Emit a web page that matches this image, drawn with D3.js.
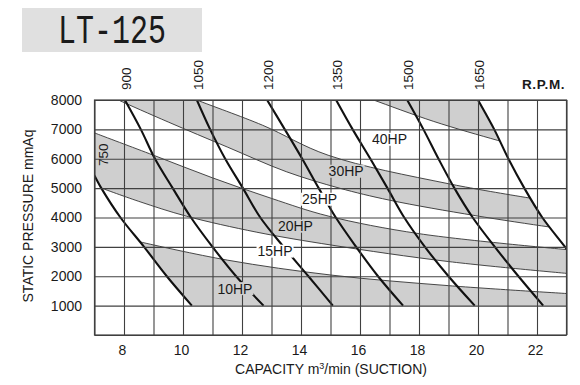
<!DOCTYPE html>
<html>
<head>
<meta charset="utf-8">
<script src="https://cdn.jsdelivr.net/npm/d3@7"></script>
<style>
  body { margin: 0; background: #fff; }
  svg { display: block; }
  text { font-family: "Liberation Sans", Arial, sans-serif; fill: #1a1a1a; }
</style>
</head>
<body>
<svg id="chart" width="580" height="385"></svg>
<script>
// ticks
const xTicks = [8, 10, 12, 14, 16, 18, 20, 22];
const yTicks = [1000, 2000, 3000, 4000, 5000, 6000, 7000, 8000];

// rpm curves, [capacity, pressure]
const rpmNames = ['750', '900', '1050', '1200', '1350', '1500', '1650'];
const rpm750 = [[6.85, 5700], [7.0, 5420], [7.23, 5000], [7.88, 4000], [8.68, 3000], [9.45, 2000], [10.3, 1000]];
const rpm900 = [[8.03, 8000], [8.57, 7000], [9.05, 6000], [9.65, 5000], [10.27, 4000], [11.0, 3000], [11.8, 2000], [12.73, 1000]];
const rpm1050 = [[10.47, 8000], [10.92, 7000], [11.43, 6000], [12.03, 5000], [12.62, 4000], [13.41, 3000], [14.25, 2000], [15.08, 1000]];
const rpm1200 = [[12.85, 8000], [13.45, 7000], [14.04, 6000], [14.6, 5000], [15.18, 4000], [15.87, 3000], [16.61, 2000], [17.46, 1000]];
const rpm1350 = [[15.19, 8000], [15.75, 7000], [16.35, 6000], [16.93, 5000], [17.5, 4000], [18.2, 3000], [19.0, 2000], [19.89, 1000]];
const rpm1500 = [[17.6, 8000], [18.15, 7000], [18.66, 6000], [19.2, 5000], [19.82, 4000], [20.57, 3000], [21.37, 2000], [22.21, 1000]];
const rpm1650 = [[19.72, 8500], [20.0, 8000], [20.55, 7000], [21.03, 6000], [21.57, 5000], [22.18, 4000], [22.95, 3000], [23.7, 2000]];

// motor power limit lines (bottom to top)
const hpLineC = [[8.3, 3230], [8.54, 3170], [11.5, 2550], [15.05, 2037], [19.0, 1680], [23.2, 1400]];
const hpLineB = [[6.9, 5130], [7.0, 5090], [8.5, 4550], [10.12, 4044], [12.5, 3500], [15.05, 3058], [19.0, 2500], [23.2, 2080]];
const hpLineA = [[6.9, 6920], [7.0, 6880], [9.0, 6120], [11.0, 5350], [13.0, 4650], [14.92, 4050], [18.0, 3450], [23.2, 2890]];
const hpLineD = [[7.5, 8150], [7.81, 8000], [9.5, 7250], [11.5, 6400], [13.5, 5560], [15.3, 5000], [17.0, 4590], [19.9, 4065], [22.4, 3680], [23.2, 3570]];
const hpLineE = [[10.0, 8200], [10.47, 8000], [12.7, 7140], [14.92, 6120], [19.0, 5150], [23.2, 4430]];
const hpLineF = [[16.0, 8170], [16.46, 8000], [18.5, 7270], [20.65, 6630], [21.5, 6400]];

// hp labels
const hpNames = ['10HP', '15HP', '20HP', '25HP', '30HP', '40HP'];
const hpLabelX = [11.76, 13.12, 13.81, 14.63, 15.53, 17.0];
const hpLabelY = [1578, 2854, 3704, 4622, 5575, 6663];

const svg = d3.select('#chart');
const plotL = 94.5, plotR = 566.5, plotT = 100, plotB = 335;

const x = d3.scaleLinear().domain([7, 23]).range([plotL, plotR]);
const y = d3.scaleLinear().domain([0, 8000]).range([plotB, plotT]);

const line = d3.line()
    .x(d => x(d[0]))
    .y(d => y(d[1]))
    .curve(d3.curveCatmullRom.alpha(0.5));
const straight = d3.line().x(d => x(d[0])).y(d => y(d[1]));
const cont = s => s.replace('M', 'L');

// smooth top and bottom edges, straight joins at the ends
function bandPath(upper, lower) {
    return line(upper) + cont(line(lower.slice().reverse())) + 'Z';
}

const GRAY = '#cfcfcf';

// title box
svg.append('rect')
    .attr('x', 22).attr('y', 8)
    .attr('width', 180).attr('height', 44)
    .attr('fill', '#e0e0e0');
svg.append('text')
    .attr('transform', 'translate(112,43) scale(1,1.35)')
    .attr('text-anchor', 'middle')
    .style('font-family', '"Liberation Mono", "DejaVu Sans Mono", monospace')
    .style('font-size', '30px')
    .text('LT-125');

// clip paths
const defs = svg.append('defs');
defs.append('clipPath').attr('id', 'plotClip')
    .append('rect')
    .attr('x', plotL).attr('y', plotT)
    .attr('width', plotR - plotL).attr('height', plotB - plotT);

// operating range: right of 750 rpm, left of 1650 rpm, above 1000 mmAq
const last1650 = rpm1650[rpm1650.length - 1];
const opPath = straight([[6.5, 8500], rpm1650[0]])
    + cont(line(rpm1650))
    + cont(straight([last1650, [24, 1000], rpm750[rpm750.length - 1]]))
    + cont(line(rpm750.slice().reverse()))
    + cont(straight([rpm750[0], [6.5, 8500]])) + 'Z';
defs.append('clipPath').attr('id', 'opClip')
    .append('path')
    .attr('d', opPath);

const plot = svg.append('g').attr('clip-path', 'url(#plotClip)');
const op = plot.append('g').attr('clip-path', 'url(#opClip)');

// gray bands
const bands = [
    [hpLineC, [[8.3, 0], [23.2, 0]]],
    [hpLineA, hpLineB],
    [hpLineE, hpLineD],
    [[[16.0, 9000], [21.5, 9000]], hpLineF]
];
op.selectAll('.band')
    .data(bands)
    .enter()
    .append('path')
    .attr('class', 'band')
    .attr('d', d => bandPath(d[0], d[1]))
    .attr('fill', GRAY);

// grid
const xGrid = svg.append('g')
    .attr('transform', `translate(0,${plotB})`)
    .call(d3.axisBottom(x).tickValues(d3.range(7, 24)).tickSize(-(plotB - plotT)).tickFormat(''));
const yGrid = svg.append('g')
    .attr('transform', `translate(${plotL},0)`)
    .call(d3.axisLeft(y).tickValues(d3.range(0, 9000, 1000)).tickSize(-(plotR - plotL)).tickFormat(''));
[xGrid, yGrid].forEach(g => {
    g.select('.domain').remove();
    g.selectAll('line').attr('stroke', '#404040').attr('stroke-width', 1.1);
});

// hp limit lines
op.selectAll('.hpline')
    .data([hpLineC, hpLineB, hpLineA, hpLineD, hpLineE, hpLineF])
    .enter()
    .append('path')
    .attr('d', line)
    .attr('fill', 'none')
    .attr('stroke', '#333')
    .attr('stroke-width', 0.9);

// rpm curves
const rpmCurves = [rpm750, rpm900, rpm1050, rpm1200, rpm1350, rpm1500, rpm1650];
plot.selectAll('.rpm')
    .data(rpmCurves)
    .enter()
    .append('path')
    .attr('d', line)
    .attr('fill', 'none')
    .attr('stroke', '#111')
    .attr('stroke-width', 2.1);

// hp labels with backgrounds
const labelBg = ['gray', 'white', 'gray', 'white', 'gray', 'white'];
const hpG = svg.append('g');
hpNames.forEach((name, i) => {
    const cx = x(hpLabelX[i]), cy = y(hpLabelY[i]);
    const t = hpG.append('text')
        .attr('x', cx).attr('y', cy)
        .attr('dy', '0.36em')
        .attr('text-anchor', 'middle')
        .style('font-size', '14px')
        .text(name);
    const bb = t.node().getBBox();
    hpG.insert('rect', 'text')
        .attr('x', bb.x - 1).attr('y', cy - 6.5)
        .attr('width', bb.width + 2).attr('height', 13)
        .attr('fill', labelBg[i] === 'gray' ? GRAY : '#fff');
});

// plot border
svg.append('rect')
    .attr('x', plotL).attr('y', plotT)
    .attr('width', plotR - plotL).attr('height', plotB - plotT)
    .attr('fill', 'none')
    .attr('stroke', '#404040')
    .attr('stroke-width', 1.2);

// x tick labels
const xAxis = svg.append('g')
    .attr('transform', `translate(-2,${plotB})`)
    .call(d3.axisBottom(x).tickValues(xTicks).tickSize(0).tickPadding(10).tickFormat(d3.format('d')));
xAxis.select('.domain').remove();
xAxis.selectAll('text')
    .style('font-family', '"Liberation Sans", Arial, sans-serif')
    .style('font-size', '14px')
    .attr('fill', '#1a1a1a');

// y tick labels
const yAxis = svg.append('g')
    .attr('transform', 'translate(82,0)')
    .call(d3.axisLeft(y).tickValues(yTicks).tickSize(0).tickPadding(0).tickFormat(d3.format('d')));
yAxis.select('.domain').remove();
yAxis.selectAll('text')
    .style('font-family', '"Liberation Sans", Arial, sans-serif')
    .style('font-size', '14px')
    .attr('fill', '#1a1a1a');

// rpm labels on top
rpmNames.slice(1).forEach((name, i) => {
    const topX = rpmCurves[i + 1].find(d => d[1] === 8000)[0];
    svg.append('text')
        .attr('transform', `translate(${x(topX) + 1},90) rotate(-90)`)
        .attr('dy', '0.36em')
        .style('font-size', '13.5px')
        .text(name);
});
svg.append('text')
    .attr('transform', `translate(${x(7.3)},${y(6140)}) rotate(-90)`)
    .attr('text-anchor', 'middle')
    .attr('dy', '0.36em')
    .style('font-size', '13.5px')
    .text(rpmNames[0]);
svg.append('text')
    .attr('x', 522).attr('y', 89)
    .style('font-size', '13.5px')
    .style('letter-spacing', '0.6px')
    .style('font-weight', 'bold')
    .text('R.P.M.');

// axis titles
const xt = svg.append('text')
    .attr('x', 331).attr('y', 374)
    .attr('text-anchor', 'middle')
    .style('font-size', '14px');
xt.append('tspan').text('CAPACITY m');
xt.append('tspan').attr('dy', -5).style('font-size', '9px').text('3');
xt.append('tspan').attr('dy', 5).text('/min (SUCTION)');

svg.append('text')
    .attr('transform', 'translate(28,216) rotate(-90)')
    .attr('text-anchor', 'middle')
    .attr('dy', '0.36em')
    .style('font-size', '14px')
    .text('STATIC PRESSURE mmAq');
</script>
</body>
</html>
